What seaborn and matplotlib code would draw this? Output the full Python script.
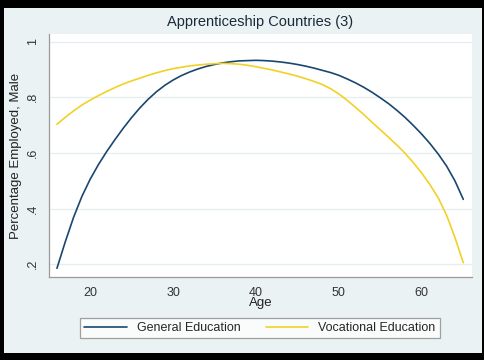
import numpy as np
import pandas as pd
import matplotlib
matplotlib.use("Agg")
import matplotlib.pyplot as plt
import seaborn as sns
from matplotlib.patches import Rectangle

# values, one per year of age
ages = list(range(16, 66))
general = [0.185, 0.28, 0.368, 0.443, 0.505, 0.558, 0.605, 0.648, 0.689, 0.727,
           0.762, 0.793, 0.82, 0.843, 0.862, 0.878, 0.891, 0.902, 0.911, 0.918,
           0.924, 0.928, 0.931, 0.932, 0.933, 0.932, 0.93, 0.927, 0.923, 0.918,
           0.912, 0.905, 0.897, 0.889, 0.879, 0.866, 0.852, 0.836, 0.818, 0.798,
           0.777, 0.753, 0.727, 0.698, 0.667, 0.633, 0.595, 0.552, 0.499, 0.433]
vocational = [0.703, 0.728, 0.751, 0.772, 0.79, 0.806, 0.821, 0.835, 0.848, 0.859,
              0.869, 0.879, 0.888, 0.896, 0.903, 0.908, 0.913, 0.916, 0.919, 0.921,
              0.922, 0.921, 0.919, 0.915, 0.91, 0.904, 0.898, 0.891, 0.884, 0.876,
              0.867, 0.857, 0.846, 0.831, 0.812, 0.789, 0.764, 0.738, 0.71, 0.683,
              0.656, 0.628, 0.598, 0.564, 0.527, 0.485, 0.437, 0.375, 0.295, 0.205]
series_names = ["General Education", "Vocational Education"]
x_ticks = [20, 30, 40, 50, 60]
y_ticks = [0.2, 0.4, 0.6, 0.8, 1.0]
y_tick_labels = [".2", ".4", ".6", ".8", "1"]

df = pd.DataFrame({
    "Age": ages * 2,
    "value": general + vocational,
    "series": [series_names[0]] * len(ages) + [series_names[1]] * len(ages),
})

sns.set_style("white")
plt.rcParams["font.family"] = ["Liberation Sans", "DejaVu Sans"]

bg = "#EAF2F3"
grid_col = "#E6EDEF"
axis_col = "#9A9A9A"
colors = ["#1A476F", "#F2D127"]

fig = plt.figure(figsize=(4.85, 3.6), dpi=100, facecolor="black")
# light stata-like background inside a thin black frame
fig.patches.append(Rectangle((4 / 485, 7 / 360), 478 / 485, 345 / 360,
                             transform=fig.transFigure, facecolor=bg,
                             edgecolor="none", zorder=-10))

ax = fig.add_axes([49 / 485, 83 / 360, 423 / 485, 243 / 360])
ax.set_facecolor("white")

sns.lineplot(data=df, x="Age", y="value", hue="series", ax=ax,
             palette=colors, linewidth=1.2, legend=False)

ax.set_xlim(15.04, 66.05)
ax.set_ylim(0.1536, 1.0277)
ax.set_xticks(x_ticks)
ax.set_yticks(y_ticks)
ax.set_yticklabels(y_tick_labels, rotation=90, va="center")
ax.tick_params(axis="both", direction="out", length=4, width=0.8,
               color=axis_col, labelsize=9, pad=3, labelcolor="#333333")
for y in y_ticks:
    ax.axhline(y, color=grid_col, linewidth=0.9, zorder=0)

for side in ["top", "right"]:
    ax.spines[side].set_visible(False)
for side in ["left", "bottom"]:
    ax.spines[side].set_color(axis_col)
    ax.spines[side].set_linewidth(0.9)

ax.set_xlabel("Age", fontsize=9.5, color="#222222", labelpad=-1)
ax.set_ylabel("Percentage Employed, Male", fontsize=9.5, color="#222222",
              labelpad=4)
ax.set_title("Apprenticeship Countries (3)", fontsize=10.5, color="#1A2A3A",
             pad=6)

handles = [plt.Line2D([], [], color=c, linewidth=1.2) for c in colors]
leg = fig.legend(handles, series_names, loc="center",
                 bbox_to_anchor=(260 / 485, 32 / 360), ncol=2, fontsize=9,
                 frameon=True, fancybox=False, edgecolor="#8A8A8A",
                 handlelength=3.4, columnspacing=2.0, borderpad=0.35)
leg.get_frame().set_linewidth(0.9)
leg.get_frame().set_facecolor("white")

fig.savefig("out.png", dpi=100, facecolor=fig.get_facecolor())
